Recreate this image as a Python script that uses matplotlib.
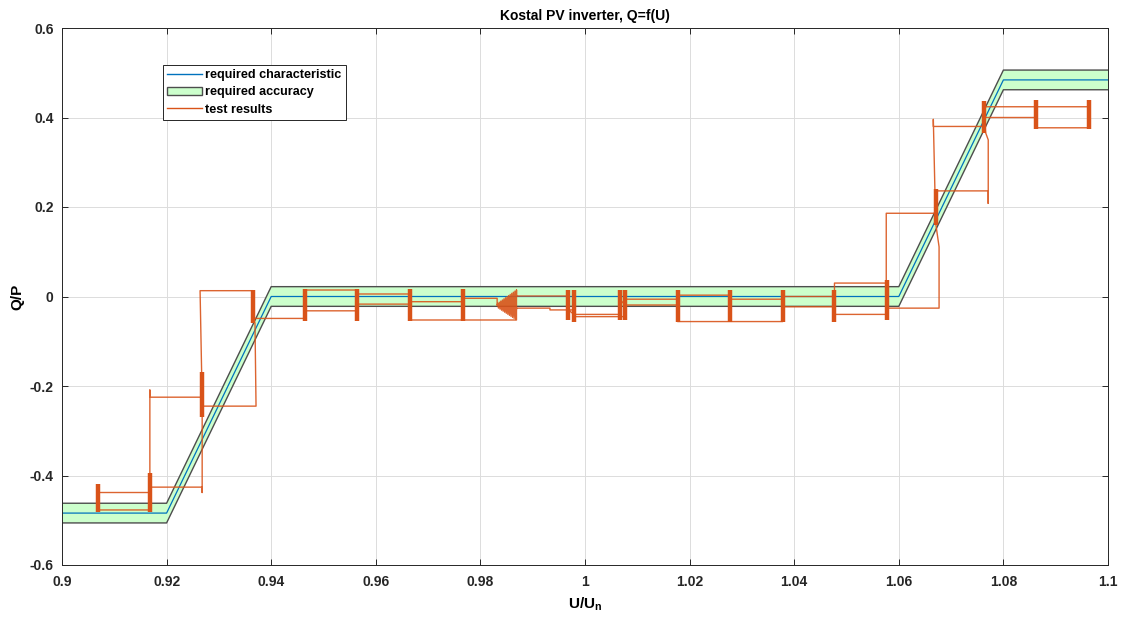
import matplotlib
matplotlib.use("Agg")
import matplotlib.pyplot as plt
import numpy as np
from matplotlib.lines import Line2D
from matplotlib.patches import Patch

plt.rcParams['font.family'] = ['Liberation Sans', 'DejaVu Sans']
plt.rcParams['mathtext.fontset'] = 'custom'
plt.rcParams['mathtext.rm'] = 'Liberation Sans:bold'
plt.rcParams['mathtext.bf'] = 'Liberation Sans:bold'

# ---------------- data ----------------
title = "Kostal PV inverter, Q=f(U)"
x_label = r"U/U$_\mathrm{n}$"
y_label = "Q/P"
legend_labels = ["required characteristic", "required accuracy", "test results"]

# required characteristic Q/P = f(U/Un)
u_char = [0.90, 0.92, 0.94, 1.06, 1.08, 1.10]
q_char = [-0.484, -0.484, 0.0, 0.0, 0.484, 0.484]
q_tol = 0.022

# thick measurement bars (Q scatter while U constant)
bar_u = [0.9068, 0.9168, 0.9268, 0.9365, 0.9465, 0.9565, 0.9665, 0.9766,
         0.9968, 0.9979, 1.0066, 1.0077, 1.0177, 1.0277, 1.0378, 1.0477,
         1.0577, 1.0671, 1.0763, 1.0863, 1.0963]
bar_qmin = [-0.481, -0.481, -0.269, -0.060, -0.054, -0.054, -0.054, -0.054,
            -0.0525, -0.056, -0.0525, -0.0525, -0.056, -0.056, -0.056, -0.056,
            -0.0525, 0.160, 0.366, 0.374, 0.374]
bar_qmax = [-0.419, -0.394, -0.168, 0.0145, 0.016, 0.016, 0.016, 0.016,
            0.0145, 0.0145, 0.0145, 0.0145, 0.0145, 0.0145, 0.0145, 0.0145,
            0.037, 0.241, 0.437, 0.439, 0.439]

# test result trace (U/Un, Q/P)
u_test = [0.9365, 0.9365, 0.9264, 0.9267, 0.9268, 0.9168, 0.9168, 0.9168, 0.9168,
          0.9068, 0.9068, 0.9168, 0.9168, 0.9268, 0.9268, 0.9268, 0.9371, 0.9369,
          0.9365, 0.9465, 0.9465, 0.9565, 0.9565, 0.9665, 0.9665, 0.9766, 0.9869,
          0.9869, 0.9869, 0.9968, 0.9968, 0.9979, 0.9979, 1.0066, 1.0066, 1.0077,
          1.0077, 1.0177, 1.0177, 1.0277, 1.0277, 1.0378, 1.0378, 1.0477, 1.0477,
          1.0577, 1.0577, 1.0677, 1.0677, 1.0671, 1.0671, 1.0771, 1.0771, 1.0771,
          1.0766, 1.0763, 1.0863, 1.0863, 1.0963, 1.0963, 1.0863, 1.0763, 1.0763,
          1.0666, 1.0666, 1.0669, 1.0671, 1.0576, 1.0576, 1.0477, 1.0477, 1.0378,
          1.0378, 1.0277, 1.0177, 1.0177, 1.0077, 1.0077, 0.9979, 0.9979, 0.9933,
          0.9933, 0.9869,
          0.98675, 0.9866, 0.98645, 0.9863, 0.98615, 0.9860, 0.98585, 0.9857,
          0.98555, 0.9854, 0.98525, 0.9851, 0.98495, 0.9848, 0.98465, 0.9845,
          0.98435, 0.9842, 0.98405, 0.9839, 0.98375, 0.9836, 0.98345, 0.9833,
          0.9832, 0.9832,
          0.9766, 0.9766, 0.9665, 0.9665, 0.9565, 0.9565, 0.9465, 0.9465]
q_test = [-0.020, 0.013, 0.013, -0.170, -0.225, -0.225, -0.209, -0.450, -0.438,
          -0.438, -0.477, -0.477, -0.426, -0.426, -0.438, -0.245, -0.245, -0.060,
          -0.049, -0.049, -0.032, -0.032, -0.017, -0.017, -0.0525, -0.0525, -0.0525,
          0.0145, 0.001, 0.001, -0.030, -0.040, -0.040, -0.040, -0.020, -0.006,
          -0.006, -0.006, 0.003, 0.003, -0.006, -0.006, 0.000, 0.000, -0.040,
          -0.040, -0.026, -0.026, 0.111, 0.160, 0.236, 0.236, 0.208, 0.350,
          0.366, 0.400, 0.400, 0.377, 0.377, 0.424, 0.424, 0.424, 0.380,
          0.380, 0.396, 0.240, 0.186, 0.186, 0.030, 0.030, -0.023, -0.023,
          -0.056, -0.056, -0.056, -0.019, -0.019, -0.045, -0.045, -0.030, -0.030,
          -0.026, -0.026,
          -0.0513, 0.0120, -0.0490, 0.0096, -0.0467, 0.0071, -0.0444, 0.0046,
          -0.0421, 0.0021, -0.0398, -0.0003, -0.0375, -0.0028, -0.0352, -0.0053,
          -0.0329, -0.0078, -0.0306, -0.0102, -0.0282, -0.0127, -0.0259, -0.0152,
          -0.020, -0.004,
          -0.004, -0.0116, -0.0116, 0.0056, 0.0056, 0.0145, 0.0145, -0.010]

x_ticks = [0.90, 0.92, 0.94, 0.96, 0.98, 1.00, 1.02, 1.04, 1.06, 1.08, 1.10]
x_ticklabels = ["0.9", "0.92", "0.94", "0.96", "0.98", "1", "1.02", "1.04", "1.06", "1.08", "1.1"]
y_ticks = [-0.6, -0.4, -0.2, 0.0, 0.2, 0.4, 0.6]
y_ticklabels = ["-0.6", "-0.4", "-0.2", "0", "0.2", "0.4", "0.6"]

# ---------------- styles ----------------
c_char = "#0072BD"
c_fill = "#CCFFCC"
c_edge = "#4d4d4d"
c_test = "#D95319"

fig = plt.figure(figsize=(11.24, 6.17), dpi=100)
ax = fig.add_axes([62/1124, 52/617, 1046/1124, 537/617])

qc = np.array(q_char)
ax.fill_between(u_char, qc - q_tol, qc + q_tol, facecolor=c_fill, edgecolor="none", zorder=1)
ax.plot(u_char, qc + q_tol, color=c_edge, lw=1.0, zorder=2)
ax.plot(u_char, qc - q_tol, color=c_edge, lw=1.0, zorder=2)
ax.plot(u_char, qc, color=c_char, lw=0.9, zorder=2)

ax.plot(u_test, q_test, color=c_test, lw=1.0, alpha=0.9, zorder=3)
ax.vlines(bar_u, bar_qmin, bar_qmax, color=c_test, lw=3.2, zorder=4)

ax.set_xlim(0.9, 1.1)
ax.set_ylim(-0.6, 0.6)
ax.set_xticks(x_ticks)
ax.set_xticklabels(x_ticklabels)
ax.set_yticks(y_ticks)
ax.set_yticklabels(y_ticklabels)
ax.grid(True, color="#dcdcdc", lw=0.7)
ax.set_axisbelow(True)
ax.tick_params(direction="in", length=4, width=0.7, colors="#262626",
               top=True, right=True, labelsize=10)
ax.tick_params(axis="x", pad=7)
ax.tick_params(axis="y", pad=6)
for lab in ax.get_xticklabels() + ax.get_yticklabels():
    lab.set_fontweight("bold")
for s in ax.spines.values():
    s.set_color("#262626")
    s.set_linewidth(0.7)

ax.set_title(title, fontsize=10, fontweight="bold", pad=6)
ax.set_xlabel(x_label, fontsize=11, fontweight="bold", labelpad=5)
ax.set_ylabel(y_label, fontsize=11, fontweight="bold", labelpad=4)

handles = [Line2D([], [], color=c_char, lw=1.0),
           Patch(facecolor=c_fill, edgecolor=c_edge, lw=1.0),
           Line2D([], [], color=c_test, lw=1.0)]
leg = ax.legend(handles, legend_labels, loc="upper left",
                bbox_to_anchor=((163-62)/1046, (565-65)/537),
                prop={"weight": "bold", "size": 9.1}, frameon=True, fancybox=False,
                edgecolor="#262626", framealpha=1, handlelength=2.7,
                handletextpad=0.3, labelspacing=0.4, borderpad=0.35, borderaxespad=0)
leg.get_frame().set_linewidth(0.7)

fig.savefig("out.png", dpi=100)
